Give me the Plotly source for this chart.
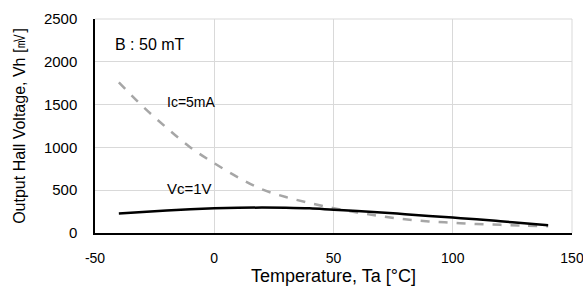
import plotly.graph_objects as go

temps = [-40, -30, -20, -10, 0, 10, 20, 30, 40, 50, 60, 70, 80, 90, 100, 110, 120, 130, 140]
ic_5ma = [1760, 1480, 1230, 1000, 815, 650, 510, 420, 350, 290, 240, 195, 160, 135, 120, 105, 95, 85, 78]
vc_1v = [227, 245, 262, 277, 288, 295, 297, 295, 288, 272, 257, 240, 220, 200, 180, 160, 137, 113, 90]

x_ticks = [-50, 0, 50, 100, 150]
x_labels = ["-50", "0", "50", "100", "150"]
y_ticks = [0, 500, 1000, 1500, 2000, 2500]
y_labels = ["0", "500", "1000", "1500", "2000", "2500"]

fig = go.Figure()
fig.add_trace(go.Scatter(x=temps, y=ic_5ma, mode="lines", line=dict(color="#a6a6a6", width=2.5, dash="dash", shape="spline"), name="Ic=5mA"))
fig.add_trace(go.Scatter(x=temps, y=vc_1v, mode="lines", line=dict(color="#000000", width=2.5, shape="spline"), name="Vc=1V"))

font = "Liberation Sans, Arial, sans-serif"
fig.update_layout(
    width=583, height=293,
    margin=dict(l=94.5, r=10.5, t=19, b=60.3),
    paper_bgcolor="white", plot_bgcolor="white",
    showlegend=False,
    font=dict(family=font, size=12, color="#000000"),
    xaxis=dict(range=[-50, 150], tickvals=x_ticks, ticktext=x_labels, showgrid=True, gridcolor="#d9d9d9", gridwidth=1,
               showline=True, linecolor="#000000", linewidth=1.5, zeroline=False, ticks="", automargin=False,
               tickfont=dict(size=14), ticklabelstandoff=11, ticklabeloverflow="allow",
               title=dict(text="Temperature, Ta [°C]", font=dict(size=18), standoff=5)),
    yaxis=dict(range=[0, 2500], tickvals=y_ticks, ticktext=y_labels, showgrid=True, gridcolor="#d9d9d9", gridwidth=1,
               showline=True, linecolor="#000000", linewidth=1.5, zeroline=False, ticks="", automargin=False,
               tickfont=dict(size=15), ticklabelstandoff=13, ticklabeloverflow="allow",
               title=dict(text="Output Hall Voltage, Vh [㎷]", font=dict(size=16), standoff=14)),
    annotations=[
        dict(x=-42.5, y=2198, text="B : 50 mT", showarrow=False, xanchor="left", yanchor="middle", font=dict(size=16)),
        dict(x=-20.5, y=1530, text="Ic=5mA", showarrow=False, xanchor="left", yanchor="middle", font=dict(size=14)),
        dict(x=-20.5, y=524, text="Vc=1V", showarrow=False, xanchor="left", yanchor="middle", font=dict(size=15)),
    ],
)
fig.add_shape(type="line", xref="paper", yref="paper", x0=0, x1=1, y0=1, y1=1, line=dict(color="#d9d9d9", width=1))
fig.add_shape(type="line", xref="paper", yref="paper", x0=1, x1=1, y0=0, y1=1, line=dict(color="#d9d9d9", width=1))
fig.write_html("out.html", config={"displayModeBar": False}, post_script="document.body.style.margin='0';")
